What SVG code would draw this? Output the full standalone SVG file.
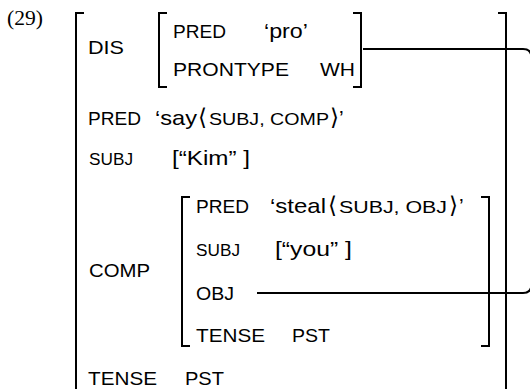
<svg xmlns="http://www.w3.org/2000/svg" width="530" height="389" viewBox="0 0 530 389">
<style>
text{fill:#000}
.l{font-family:"Liberation Sans","DejaVu Sans",sans-serif;font-size:18px}
.v{font-family:"Liberation Sans","DejaVu Sans",sans-serif;font-size:21px}
.sc{font-family:"Liberation Sans","DejaVu Sans",sans-serif;font-size:16px}
.ab{font-family:"DejaVu Sans",sans-serif;font-size:23px}
.br{fill:none;stroke:#000;stroke-width:2}
.num{font-family:"Liberation Serif",serif;font-size:20px}
</style>
<rect width="530" height="389" fill="#fff"/>
<text class="num" x="7" y="25" textLength="36" lengthAdjust="spacingAndGlyphs">(29)</text>
<g id="outer">
<path class="br" d="M84,13 H76 V392"/>
<path class="br" d="M498,13 H506 V392"/>
</g>
<g id="dis">
<text class="l" x="88" y="54" textLength="36" lengthAdjust="spacingAndGlyphs">DIS</text>
<path class="br" d="M167,13 H159 V87 H167"/>
<path class="br" d="M353,13 H361 V87 H353"/>
<text class="l" x="173" y="38" textLength="53" lengthAdjust="spacingAndGlyphs">PRED</text>
<text class="v" x="264" y="38" textLength="44" lengthAdjust="spacingAndGlyphs">‘pro’</text>
<text class="l" x="173" y="76" textLength="116" lengthAdjust="spacingAndGlyphs">PRONTYPE</text>
<text class="l" x="320" y="76" textLength="35" lengthAdjust="spacingAndGlyphs">WH</text>
</g>
<g id="pred">
<text class="l" x="88" y="125" textLength="53" lengthAdjust="spacingAndGlyphs">PRED</text>
<text class="v" x="155" y="125" textLength="42" lengthAdjust="spacingAndGlyphs">‘say</text>
<text class="ab" x="198" y="125">⟨</text>
<text class="sc" x="209" y="125" textLength="120" lengthAdjust="spacingAndGlyphs">SUBJ, COMP</text>
<text class="ab" x="330" y="125">⟩</text>
<text class="v" x="339" y="125">’</text>
</g>
<g id="subj">
<text class="sc" x="89" y="165" textLength="44" lengthAdjust="spacingAndGlyphs">SUBJ</text>
<text class="v" x="172" y="165" textLength="78" lengthAdjust="spacingAndGlyphs">[“Kim” ]</text>
</g>
<g id="comp">
<text class="l" x="89" y="277" textLength="61" lengthAdjust="spacingAndGlyphs">COMP</text>
<path class="br" d="M190,197 H182 V346 H190"/>
<path class="br" d="M481,197 H489 V346 H481"/>
<text class="l" x="196" y="213" textLength="53" lengthAdjust="spacingAndGlyphs">PRED</text>
<text class="v" x="270" y="213" textLength="56" lengthAdjust="spacingAndGlyphs">‘steal</text>
<text class="ab" x="328" y="213">⟨</text>
<text class="sc" x="339" y="213" textLength="108" lengthAdjust="spacingAndGlyphs">SUBJ, OBJ</text>
<text class="ab" x="449" y="213">⟩</text>
<text class="v" x="459" y="213">’</text>
<text class="sc" x="196" y="256" textLength="44" lengthAdjust="spacingAndGlyphs">SUBJ</text>
<text class="v" x="275" y="256" textLength="77" lengthAdjust="spacingAndGlyphs">[“you” ]</text>
<text class="l" x="196" y="300" textLength="38" lengthAdjust="spacingAndGlyphs">OBJ</text>
<text class="l" x="196" y="342" textLength="69" lengthAdjust="spacingAndGlyphs">TENSE</text>
<text class="l" x="292" y="342" textLength="38" lengthAdjust="spacingAndGlyphs">PST</text>
</g>
<g id="tense">
<text class="l" x="88" y="385" textLength="69" lengthAdjust="spacingAndGlyphs">TENSE</text>
<text class="l" x="185" y="385" textLength="39" lengthAdjust="spacingAndGlyphs">PST</text>
</g>
<g id="connectors">
<path class="br" d="M363,49 H523 Q531.5,49 531.5,58 V284 Q531.5,293 523,293 H257"/>
</g>
</svg>
